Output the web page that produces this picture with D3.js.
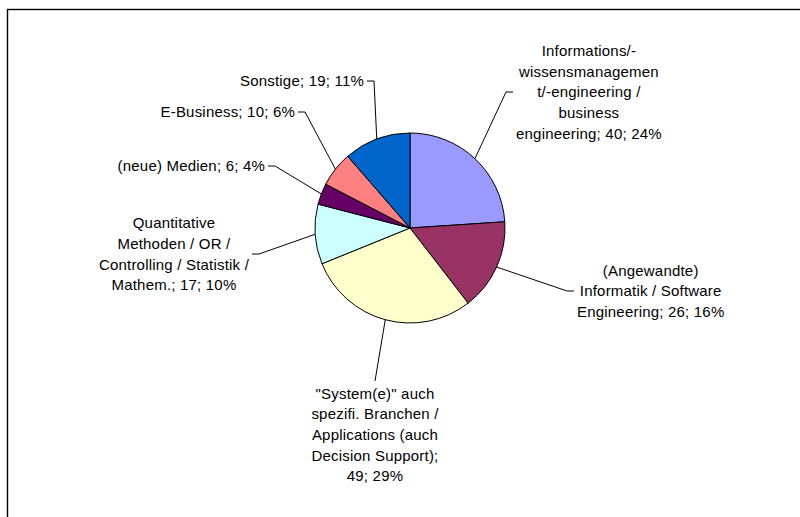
<!DOCTYPE html>
<html><head><meta charset="utf-8">
<script src="https://cdn.jsdelivr.net/npm/d3@7"></script>
<style>body{margin:0;background:#fff}svg{display:block}</style>
</head><body>
<svg id="chart" width="800" height="517"></svg>
<script>
// ---- data ----
const categoryLines = [
  ["Informations/-", "wissensmanagemen", "t/-engineering /", "business", "engineering"],
  ["(Angewandte)", "Informatik / Software", "Engineering"],
  ["\"System(e)\" auch", "spezifi. Branchen /", "Applications (auch", "Decision Support)"],
  ["Quantitative", "Methoden / OR /", "Controlling / Statistik /", "Mathem."],
  ["(neue) Medien"],
  ["E-Business"],
  ["Sonstige"]
];
const values = [40, 26, 49, 17, 6, 10, 19];
const valueOnNewLine = [false, false, true, false, false, false, false];
const colors = ["#9999FF", "#993366", "#FFFFCC", "#CCFFFF", "#660066", "#FF8080", "#0066CC"];

// ---- layout (label anchor = end of leader line) ----
const labelAnchors = [
  {x: 513, y: 92, side: "left"},
  {x: 574, y: 291, side: "left"},
  {x: 375, y: 381, side: "top"},
  {x: 252, y: 254, side: "right"},
  {x: 268, y: 166, side: "right"},
  {x: 298, y: 112, side: "right"},
  {x: 367, y: 81, side: "right"}
];

const svg = d3.select("#chart");
const cx = 410, cy = 228, r = 95;
const fontSize = 15, lineH = 20.7, gap = 3, tick = 7;

svg.append("rect").attr("x", 7.5).attr("y", 9.5).attr("width", 820).attr("height", 540)
  .attr("fill", "#fff").attr("stroke", "#000").attr("stroke-width", 1.4);

const total = d3.sum(values);
const pie = d3.pie().sort(null).value(d => d)(values);
const arc = d3.arc().innerRadius(0).outerRadius(r);
const edge = d3.arc().innerRadius(r).outerRadius(r);

const g = svg.append("g").attr("transform", `translate(${cx},${cy})`);
g.selectAll("path.slice").data(pie).join("path")
  .attr("class", "slice")
  .attr("d", arc)
  .attr("fill", (d, i) => colors[i])
  .attr("stroke", "#000").attr("stroke-width", 1);

pie.forEach((d, i) => {
  const pct = Math.round(d.value / total * 100);
  const lines = categoryLines[i].slice();
  if (valueOnNewLine[i]) {
    lines[lines.length - 1] += ";";
    lines.push(`${d.value}; ${pct}%`);
  } else {
    lines[lines.length - 1] += `; ${d.value}; ${pct}%`;
  }
  const a = labelAnchors[i];
  const t = svg.append("text")
    .attr("font-family", "Arial, 'Liberation Sans', sans-serif")
    .attr("font-size", fontSize).attr("fill", "#000")
    .attr("letter-spacing", 0.2)
    .attr("text-anchor", "middle");
  const tspans = lines.map(l => t.append("tspan").text(l));
  const w = d3.max(tspans, s => s.node().getComputedTextLength());
  const h = lines.length * lineH;
  let bx, top;
  if (a.side === "left") { bx = a.x + gap + w / 2; top = a.y - h / 2; }
  else if (a.side === "right") { bx = a.x - gap - w / 2; top = a.y - h / 2; }
  else { bx = a.x; top = a.y + 2; }
  tspans.forEach((s, k) => s.attr("x", bx).attr("y", top + lineH * (k + 0.5)).attr("dy", "0.35em"));

  const [sx, sy] = edge.centroid(d);
  const pts = [[cx + sx, cy + sy]];
  if (a.side === "left") pts.push([a.x - tick, a.y], [a.x, a.y]);
  else if (a.side === "right") pts.push([a.x + tick, a.y], [a.x, a.y]);
  else pts.push([a.x, a.y]);
  svg.append("path").attr("d", d3.line()(pts))
    .attr("fill", "none").attr("stroke", "#000").attr("stroke-width", 1);
});
</script>
</body></html>
